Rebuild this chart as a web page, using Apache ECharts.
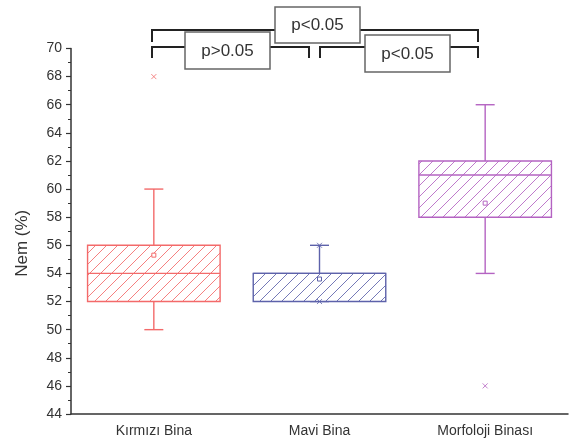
<!DOCTYPE html>
<html>
<head>
<meta charset="utf-8">
<script src="https://cdn.jsdelivr.net/npm/echarts@6/dist/echarts.min.js"></script>
<style>
html,body{margin:0;padding:0;background:#fff;}
#c{width:570px;height:443px;}
</style>
</head>
<body>
<div id="c"></div>
<script>
// ---- data ----
var categories = ['Kırmızı Bina', 'Mavi Bina', 'Morfoloji Binası'];
var whiskerLow  = [50, 52, 54];
var q1          = [52, 52, 58];
var median      = [54, 54, 61];
var q3          = [56, 54, 62];
var whiskerHigh = [60, 56, 66];
var mean        = [55.3, 53.6, 59.0];
var markerCat   = [0, 2, 1, 1];
var markerVal   = [68, 46, 52, 56];
var yTicks      = [44, 46, 48, 50, 52, 54, 56, 58, 60, 62, 64, 66, 68, 70];

// ---- styles ----
var colors = ['#f36a6a', '#5d62aa', '#b463c2'];
var FONT = 'Liberation Sans, Arial, sans-serif';

function hatch(color) {
  var S = 11;
  var cv = document.createElement('canvas');
  cv.width = S; cv.height = S;
  var ctx = cv.getContext('2d');
  ctx.fillStyle = '#fff';
  ctx.fillRect(0, 0, S, S);
  ctx.strokeStyle = color;
  ctx.globalAlpha = 0.85;
  ctx.lineWidth = 1;
  ctx.beginPath();
  ctx.moveTo(-1, S + 1); ctx.lineTo(S + 1, -1);
  ctx.moveTo(-2, 1); ctx.lineTo(1, -2);
  ctx.moveTo(S - 1, S + 2); ctx.lineTo(S + 2, S - 1);
  ctx.stroke();
  return { image: cv, repeat: 'repeat' };
}
var patterns = colors.map(hatch);

var boxData = categories.map(function (c, i) {
  return [i, whiskerLow[i], q1[i], median[i], q3[i], whiskerHigh[i], mean[i]];
});
var markerData = markerCat.map(function (c, i) {
  return { value: [c, markerVal[i]], itemStyle: { borderColor: colors[c] } };
});

function renderBox(params, api) {
  var i = api.value(0);
  var band = api.size([1, 0])[0];
  var bw = band * 0.8;
  var capW = 19;
  var c = colors[i];
  var pLo = api.coord([i, api.value(1)]);
  var pQ1 = api.coord([i, api.value(2)]);
  var pMed = api.coord([i, api.value(3)]);
  var pQ3 = api.coord([i, api.value(4)]);
  var pHi = api.coord([i, api.value(5)]);
  var pMean = api.coord([i, api.value(6)]);
  var cx = pQ1[0];
  var ln = { stroke: c, lineWidth: 1.4, fill: null };
  return {
    type: 'group',
    children: [
      { type: 'line', shape: { x1: cx, y1: pHi[1], x2: cx, y2: pQ3[1] }, style: ln },
      { type: 'line', shape: { x1: cx, y1: pLo[1], x2: cx, y2: pQ1[1] }, style: ln },
      { type: 'line', shape: { x1: cx - capW / 2, y1: pHi[1], x2: cx + capW / 2, y2: pHi[1] }, style: ln },
      { type: 'line', shape: { x1: cx - capW / 2, y1: pLo[1], x2: cx + capW / 2, y2: pLo[1] }, style: ln },
      { type: 'rect', shape: { x: cx - bw / 2, y: pQ3[1], width: bw, height: pQ1[1] - pQ3[1] },
        style: { fill: patterns[i], stroke: c, lineWidth: 1.4 } },
      { type: 'line', shape: { x1: cx - bw / 2, y1: pMed[1], x2: cx + bw / 2, y2: pMed[1] }, style: ln },
      { type: 'rect', shape: { x: cx - 2, y: pMean[1] - 2, width: 4, height: 4 },
        style: { fill: '#fff', stroke: c, lineWidth: 1 } }
    ]
  };
}

var chart = echarts.init(document.getElementById('c'), null, { renderer: 'canvas' });
chart.setOption({
  animation: false,
  backgroundColor: '#fff',
  grid: { left: 71, right: 2, top: 48.5, bottom: 29 },
  xAxis: {
    type: 'category',
    data: categories,
    boundaryGap: true,
    axisLine: { lineStyle: { color: '#333', width: 1.5 } },
    axisTick: { alignWithLabel: true, length: 5, lineStyle: { color: '#333', width: 1.2 } },
    axisLabel: { color: '#333', fontSize: 14, fontFamily: FONT, margin: 10 },
    splitLine: { show: false }
  },
  yAxis: {
    type: 'value',
    min: yTicks[0],
    max: yTicks[yTicks.length - 1],
    interval: 2,
    name: 'Nem (%)',
    nameLocation: 'middle',
    nameGap: 40,
    nameTextStyle: { color: '#333', fontSize: 17, fontFamily: FONT, padding: [0, 24, 0, 0] },
    axisLine: { show: true, lineStyle: { color: '#333', width: 1.5 } },
    axisTick: { show: true, length: 5, lineStyle: { color: '#333', width: 1.2 } },
    minorTick: { show: true, splitNumber: 2, length: 3, lineStyle: { color: '#333', width: 1 } },
    axisLabel: { color: '#333', fontSize: 14, fontFamily: FONT, margin: 9 },
    splitLine: { show: false }
  },
  series: [
    {
      type: 'custom',
      renderItem: renderBox,
      data: boxData,
      encode: { x: 0, y: [1, 2, 3, 4, 5, 6] },
      clip: false,
      z: 2
    },
    {
      type: 'scatter',
      data: markerData,
      symbol: 'path://M0,0L10,10M10,0L0,10',
      symbolSize: 5,
      itemStyle: { color: 'transparent', borderWidth: 1 },
      z: 3
    }
  ],
  graphic: [
    { type: 'polyline', z: 10, shape: { points: [[152, 42], [152, 30], [478, 30], [478, 42]] }, style: { stroke: '#222', lineWidth: 2, fill: null } },
    { type: 'polyline', z: 10, shape: { points: [[152, 58], [152, 47], [309, 47], [309, 58]] }, style: { stroke: '#222', lineWidth: 2, fill: null } },
    { type: 'polyline', z: 10, shape: { points: [[320, 58], [320, 47], [478, 47], [478, 58]] }, style: { stroke: '#222', lineWidth: 2, fill: null } },
    { type: 'rect', z: 11, shape: { x: 275, y: 7, width: 85, height: 36 }, style: { fill: '#fff', stroke: '#666', lineWidth: 1.5 } },
    { type: 'text', z: 12, x: 317.5, y: 25, style: { text: 'p<0.05', fill: '#333', font: '17px ' + FONT, align: 'center', verticalAlign: 'middle' } },
    { type: 'rect', z: 11, shape: { x: 185, y: 32, width: 85, height: 37 }, style: { fill: '#fff', stroke: '#666', lineWidth: 1.5 } },
    { type: 'text', z: 12, x: 227.5, y: 51, style: { text: 'p>0.05', fill: '#333', font: '17px ' + FONT, align: 'center', verticalAlign: 'middle' } },
    { type: 'rect', z: 11, shape: { x: 365, y: 35, width: 85, height: 37 }, style: { fill: '#fff', stroke: '#666', lineWidth: 1.5 } },
    { type: 'text', z: 12, x: 407.5, y: 54, style: { text: 'p<0.05', fill: '#333', font: '17px ' + FONT, align: 'center', verticalAlign: 'middle' } }
  ]
});
</script>
</body>
</html>
